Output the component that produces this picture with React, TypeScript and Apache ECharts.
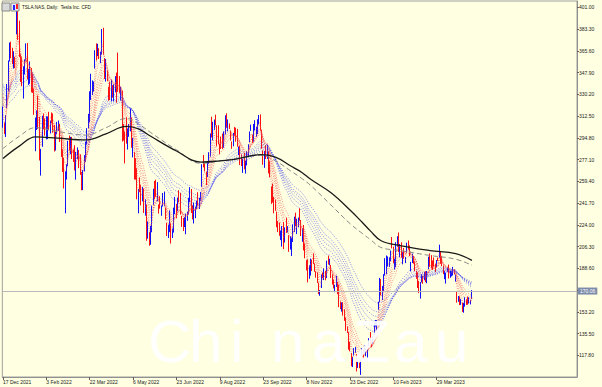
import { useEffect, useRef } from 'react';
import * as echarts from 'echarts';

// x-axis tick labels, one every 32 daily bars starting at bar 0
const tickLabels = ['17 Dec 2021', '3 Feb 2022', '22 Mar 2022', '6 May 2022', '23 Jun 2022', '9 Aug 2022', '23 Sep 2022', '8 Nov 2022', '23 Dec 2022', '10 Feb 2023', '29 Mar 2023'];
const barsPerLabel = 32;
const slotCount = 424; // bar slots across the plot (chart shift leaves empty room on the right)

// price scale
const priceMin = 100.1;
const priceMax = 406.1;
const priceStep = 17.7;
const lastPrice = 170.06;
const title = 'TSLA.NAS, Daily:  Tesla Inc. CFD';
const watermarkLetters = ['C', 'h', 'i', 'n', 'a', 'Z', 'a', 'u'];

// daily candles [open, high, low, close]
const candles2021: number[][] = [
  [304.9, 320.2, 303.0, 310.9], [303.6, 307.2, 297.8, 300.0], [305.6, 313.2, 295.4, 312.8], [321.9, 338.6, 319.0, 336.3],
  [335.6, 357.7, 332.5, 355.7], [357.9, 372.3, 356.9, 364.6], [369.8, 373.0, 359.5, 362.8], [366.2, 368.0, 354.7, 362.1],
  [353.8, 365.2, 351.1, 356.8], [357.8, 360.7, 351.5, 352.3],
];

const candles2022H1: number[][] = [
  // Jan
  [382.6, 400.4, 378.9, 399.9], [396.5, 402.7, 374.4, 383.2], [382.2, 390.1, 360.3, 362.7], [359.0, 362.7, 340.2, 354.9],
  [360.1, 360.3, 336.7, 342.3], [333.3, 353.0, 326.7, 352.7], [351.2, 358.6, 346.3, 354.8], [359.6, 371.6, 357.5, 368.7],
  [369.7, 371.9, 342.2, 343.9], [340.0, 350.7, 337.8, 349.9], [342.2, 356.9, 338.7, 343.5], [347.2, 351.6, 331.7, 331.9],
  [336.6, 347.2, 331.3, 332.1], [332.1, 334.9, 313.5, 314.6], [301.6, 311.2, 283.8, 310.0], [304.7, 317.1, 301.1, 306.1],
  [317.5, 329.2, 302.0, 312.5], [311.1, 311.8, 276.3, 276.4], [277.2, 285.8, 264.0, 282.1], [290.9, 312.7, 287.4, 312.2],
  // Feb
  [311.7, 314.6, 301.7, 310.4], [309.4, 310.5, 296.5, 301.9], [294.0, 312.3, 293.5, 297.0], [299.1, 312.2, 293.7, 307.8],
  [307.9, 315.9, 300.9, 302.4], [301.8, 308.8, 298.3, 307.3], [311.7, 315.4, 306.7, 310.7], [302.8, 314.6, 298.9, 301.5],
  [303.2, 305.3, 283.6, 286.7], [287.2, 299.6, 284.4, 291.9], [300.0, 307.7, 297.8, 307.5], [304.7, 308.8, 300.4, 307.8],
  [304.4, 306.2, 291.4, 292.1], [295.3, 295.6, 279.2, 285.7], [278.0, 285.6, 267.0, 273.8], [276.8, 278.4, 253.5, 254.7],
  [233.5, 267.5, 233.3, 266.9], [269.7, 273.2, 260.8, 270.0], [271.7, 292.3, 271.6, 290.1],
  // Mar
  [289.9, 296.6, 284.6, 288.1], [290.7, 295.5, 281.4, 293.3], [292.9, 295.5, 277.5, 279.8], [283.0, 285.2, 275.1, 279.4],
  [285.4, 288.7, 268.2, 268.2], [265.2, 283.3, 260.7, 274.8], [279.8, 286.9, 277.3, 286.3], [283.8, 284.8, 270.1, 279.4],
  [280.1, 281.3, 264.6, 265.1], [260.2, 266.9, 252.0, 255.5], [258.4, 268.5, 252.2, 267.3], [269.7, 280.7, 267.4, 280.1],
  [277.0, 291.7, 275.2, 290.5], [291.5, 302.6, 289.1, 301.8], [305.0, 314.3, 302.4, 307.1], [310.0, 332.6, 307.3, 331.3],
  [326.6, 346.9, 325.5, 333.0], [336.6, 341.5, 329.6, 338.0], [336.0, 340.6, 332.4, 336.9], [355.0, 366.0, 351.2, 363.9],
  [369.3, 371.6, 357.7, 366.5], [363.7, 371.3, 361.3, 364.7], [364.9, 367.7, 358.9, 359.2],
  // Apr
  [360.4, 364.9, 355.5, 361.5], [363.1, 383.3, 362.4, 381.8], [378.8, 384.3, 362.4, 363.8], [357.8, 359.7, 342.6, 348.6],
  [350.8, 358.9, 340.5, 352.4], [347.7, 349.5, 340.8, 341.8], [326.8, 336.2, 324.9, 325.3], [332.5, 340.4, 325.5, 329.0],
  [327.0, 342.1, 324.4, 340.8], [333.1, 337.6, 327.4, 328.3], [329.7, 338.3, 324.5, 334.8], [335.0, 345.0, 331.8, 342.7],
  [343.3, 347.8, 323.3, 325.7], [358.2, 364.1, 332.1, 336.3], [338.3, 345.0, 331.3, 335.0], [326.3, 336.2, 325.1, 332.7],
  [331.8, 333.3, 291.7, 292.1], [299.5, 306.0, 292.5, 293.8], [300.0, 300.0, 273.9, 292.5], [300.8, 311.5, 290.0, 290.3],
  // May
  [294.3, 302.4, 285.2, 301.0], [299.3, 306.0, 295.6, 303.1], [303.9, 318.3, 300.0, 317.5], [310.0, 311.3, 286.7, 291.1],
  [287.9, 294.7, 278.8, 288.6], [283.2, 283.2, 260.8, 262.4], [273.0, 278.3, 260.7, 266.7], [263.3, 270.0, 244.7, 244.7],
  [233.3, 253.2, 233.3, 242.7], [257.8, 262.5, 250.5, 256.5], [255.7, 256.6, 239.7, 241.5], [249.1, 254.8, 243.0, 253.9],
  [248.2, 253.5, 233.6, 236.6], [235.7, 244.7, 231.4, 236.5], [238.0, 240.5, 211.0, 221.3], [218.3, 226.7, 212.7, 225.0],
  [217.8, 218.0, 206.9, 209.4], [208.0, 223.1, 207.7, 219.6], [220.5, 239.6, 217.9, 235.9], [241.1, 253.3, 240.2, 253.2],
  [257.9, 259.6, 244.7, 252.8],
  // Jun
  [258.3, 260.7, 246.7, 246.8], [244.5, 258.7, 243.1, 258.3], [239.4, 240.6, 233.1, 234.5], [246.3, 247.3, 237.1, 238.3],
  [234.1, 239.7, 231.3, 238.9], [239.4, 249.8, 238.8, 241.9], [239.0, 251.0, 239.0, 239.7], [236.3, 237.7, 228.2, 232.2],
  [223.2, 225.6, 214.9, 215.7], [219.3, 224.1, 213.2, 220.9], [225.7, 235.6, 218.0, 233.0], [222.7, 225.2, 208.7, 213.1],
  [213.4, 221.0, 213.2, 216.8], [222.7, 237.9, 217.6, 237.0], [234.6, 246.7, 232.5, 236.1], [237.7, 241.0, 229.2, 235.1],
  [237.5, 246.1, 235.0, 245.7], [249.4, 252.1, 242.2, 244.9], [244.7, 250.0, 232.3, 232.7], [230.5, 231.2, 222.3, 228.5],
  [224.5, 229.5, 218.9, 224.5],
];

const candles2022H2: number[][] = [
  // Jul
  [227.0, 230.2, 222.1, 227.3], [223.0, 233.1, 216.2, 233.1], [230.8, 234.6, 227.2, 231.7], [233.9, 246.0, 232.3, 244.5],
  [242.3, 254.6, 242.3, 250.8], [252.1, 253.1, 233.6, 234.3], [236.8, 239.8, 228.4, 233.1], [225.5, 242.1, 225.0, 237.0],
  [234.9, 238.7, 229.3, 238.3], [240.0, 243.6, 236.9, 240.1], [244.9, 250.5, 239.6, 240.5], [245.0, 246.0, 236.8, 245.5],
  [246.8, 250.7, 243.5, 247.5], [255.1, 273.3, 254.9, 271.7], [276.2, 280.8, 270.7, 272.2], [272.2, 274.2, 267.4, 268.4],
  [266.5, 267.3, 256.3, 258.9], [263.8, 275.6, 262.9, 274.8], [280.0, 283.0, 273.6, 280.9], [280.7, 298.3, 279.5, 297.2],
  // Aug
  [301.3, 311.9, 295.0, 297.3], [294.0, 307.8, 292.7, 300.6], [305.0, 309.6, 301.2, 307.4], [311.0, 313.6, 305.0, 308.6],
  [302.7, 305.0, 287.7, 288.2], [295.0, 305.0, 289.5, 290.4], [289.0, 289.7, 281.3, 283.3], [295.8, 295.8, 285.6, 294.4],
  [297.0, 298.3, 285.6, 286.6], [289.4, 300.0, 286.7, 300.0], [298.0, 313.1, 297.5, 309.3], [311.7, 314.7, 302.9, 306.6],
  [303.4, 309.7, 300.0, 304.0], [306.0, 306.5, 301.9, 302.9], [299.0, 300.4, 292.5, 296.7], [291.8, 291.8, 285.8, 289.9],
  [291.5, 298.8, 287.9, 296.5], [297.6, 303.6, 296.5, 297.1], [302.4, 303.0, 291.6, 296.1], [297.4, 302.0, 287.5, 288.1],
  [282.8, 287.7, 280.7, 284.8], [287.9, 288.5, 272.7, 277.7], [280.6, 281.3, 271.8, 275.6],
  // Sep
  [272.6, 277.6, 266.2, 277.2], [281.1, 282.4, 269.1, 270.2], [272.7, 276.0, 265.7, 274.4], [273.1, 283.8, 272.3, 283.7],
  [281.3, 289.5, 279.8, 289.3], [291.7, 299.9, 291.3, 299.7], [300.7, 305.5, 300.4, 304.4], [292.9, 297.4, 290.4, 292.1],
  [292.2, 306.0, 291.6, 302.6], [301.8, 309.1, 300.7, 303.8], [299.6, 303.7, 295.6, 303.4], [300.1, 309.8, 297.8, 309.1],
  [306.9, 313.3, 305.6, 308.7], [308.3, 313.8, 300.6, 300.8], [299.9, 301.3, 285.8, 288.6], [283.1, 284.5, 272.8, 275.3],
  [271.8, 284.1, 270.3, 276.0], [283.8, 288.7, 277.5, 282.9], [283.1, 289.0, 277.6, 287.8], [282.8, 283.7, 265.8, 268.2],
  [266.2, 275.6, 262.5, 265.3],
  // Oct
  [254.5, 255.2, 241.0, 242.4], [250.5, 257.5, 242.0, 249.4], [245.0, 246.7, 233.3, 240.8], [239.4, 244.6, 235.4, 238.1],
  [233.9, 234.6, 222.0, 223.1], [223.9, 227.0, 218.0, 223.0], [221.0, 225.8, 215.0, 216.5], [215.3, 219.3, 211.5, 217.2],
  [208.3, 223.0, 206.2, 221.7], [224.0, 226.3, 204.2, 205.0], [210.0, 221.9, 209.5, 219.4], [229.5, 229.8, 217.3, 220.2],
  [219.8, 222.9, 217.8, 222.0], [208.3, 215.6, 202.0, 207.3], [206.4, 214.7, 203.8, 214.4], [205.8, 213.5, 198.6, 211.3],
  [210.1, 224.4, 210.0, 222.4], [219.4, 230.6, 218.2, 224.6], [229.8, 233.8, 222.9, 225.1], [225.4, 228.9, 216.4, 228.5],
  [226.2, 229.9, 221.9, 227.5],
  // Nov
  [234.1, 237.4, 227.3, 227.8], [226.0, 227.9, 214.8, 215.0], [211.4, 221.2, 210.1, 215.3], [222.6, 223.8, 203.1, 207.5],
  [208.7, 208.9, 196.7, 197.1], [194.0, 195.2, 186.8, 191.3], [190.8, 195.9, 177.1, 177.6], [189.9, 191.0, 180.0, 190.7],
  [186.0, 196.5, 182.6, 196.0], [192.8, 195.7, 186.3, 191.0], [195.9, 200.8, 192.1, 194.4], [191.5, 192.6, 185.7, 186.9],
  [184.0, 186.2, 180.9, 183.2], [185.1, 185.2, 176.6, 180.2], [175.9, 176.8, 167.5, 167.9], [168.6, 170.9, 166.2, 169.9],
  [173.6, 183.6, 172.5, 183.2], [185.1, 185.2, 180.6, 182.9], [180.0, 188.5, 179.0, 182.9], [185.0, 186.4, 178.8, 180.8],
  [182.4, 194.8, 180.6, 194.7],
  // Dec
  [197.1, 198.9, 191.8, 194.7], [191.8, 196.3, 191.1, 194.9], [189.4, 191.3, 180.6, 182.5], [181.2, 183.7, 175.3, 179.8],
  [175.0, 179.4, 172.2, 174.0], [172.2, 175.2, 169.1, 173.4], [173.8, 182.5, 173.4, 179.1], [176.1, 177.4, 167.5, 167.8],
  [174.9, 175.1, 156.9, 161.0], [159.3, 161.6, 155.3, 156.8], [153.4, 160.9, 153.3, 157.7], [159.6, 161.0, 150.0, 150.2],
  [154.0, 155.3, 145.8, 149.9], [146.1, 148.5, 137.7, 137.8], [139.3, 141.3, 135.9, 137.6], [136.0, 136.6, 122.3, 125.4],
  [126.4, 128.6, 121.0, 123.2], [117.5, 119.7, 108.8, 109.1], [110.4, 116.3, 108.2, 112.7], [120.4, 123.6, 117.5, 121.8],
  [120.0, 124.5, 119.8, 123.2],
];

const candles2023: number[][] = [
  // Jan
  [118.5, 118.8, 104.6, 108.1], [109.1, 114.6, 107.5, 113.6], [110.5, 111.8, 107.2, 110.3], [103.0, 114.4, 101.8, 113.1],
  [119.0, 123.5, 117.1, 119.8], [121.1, 122.8, 114.9, 118.9], [122.1, 126.0, 120.5, 123.2], [122.6, 124.1, 117.0, 123.6],
  [116.6, 122.6, 115.6, 122.4], [125.7, 131.7, 125.0, 131.5], [136.6, 136.7, 127.0, 128.8], [127.3, 130.0, 124.3, 127.2],
  [128.7, 133.5, 127.4, 133.4], [135.9, 145.4, 134.3, 143.8], [143.0, 146.5, 141.1, 143.9], [141.9, 146.4, 138.1, 144.4],
  [160.0, 161.4, 154.8, 160.3], [162.4, 180.7, 161.2, 177.9], [178.1, 179.8, 166.5, 166.7], [164.6, 174.3, 162.8, 173.2],
  // Feb
  [173.9, 183.8, 169.9, 181.4], [187.3, 196.8, 182.6, 188.3], [184.0, 199.0, 183.7, 190.0], [193.0, 198.2, 189.9, 194.8],
  [196.4, 197.5, 189.6, 196.8], [196.1, 203.0, 194.3, 201.3], [207.8, 214.0, 204.8, 207.3], [202.2, 206.2, 192.9, 196.9],
  [194.4, 196.3, 187.6, 194.6], [191.9, 209.8, 189.4, 209.3], [211.8, 214.7, 206.1, 214.2], [210.8, 217.7, 201.8, 202.0],
  [200.0, 208.4, 197.5, 208.3], [205.0, 209.7, 197.2, 197.4], [197.9, 202.0, 191.8, 200.9], [203.9, 205.1, 196.3, 202.1],
  [196.3, 197.7, 192.8, 196.9], [202.0, 209.4, 201.3, 207.6], [210.6, 211.2, 203.8, 205.7],
  // Mar
  [206.2, 207.2, 198.5, 202.8], [186.7, 193.8, 186.0, 190.9], [194.8, 200.5, 192.9, 197.8], [198.5, 198.6, 192.3, 193.8],
  [191.4, 194.2, 186.1, 187.7], [185.0, 186.5, 180.0, 182.0], [180.3, 185.2, 172.5, 172.9], [175.1, 178.3, 168.4, 173.4],
  [167.5, 177.4, 163.9, 174.5], [177.3, 183.8, 177.1, 183.3], [180.8, 182.3, 176.0, 180.5], [180.4, 185.8, 178.8, 184.1],
  [180.1, 186.2, 177.3, 180.1], [178.1, 186.4, 176.4, 183.3], [188.3, 198.0, 188.0, 197.6], [197.6, 200.7, 189.8, 191.2],
  [195.3, 199.3, 188.7, 192.2], [194.4, 194.9, 187.2, 190.4], [194.4, 197.4, 189.9, 191.8], [192.0, 192.4, 185.4, 189.2],
  [193.1, 195.3, 189.4, 193.9], [195.6, 197.3, 194.4, 195.3], [197.5, 207.8, 197.2, 207.5],
  // Apr
  [199.9, 202.7, 192.2, 194.8], [197.3, 198.7, 190.3, 192.6], [190.5, 190.7, 183.8, 185.5], [183.1, 186.4, 179.7, 185.1],
  [179.9, 185.1, 176.1, 184.5], [186.7, 189.2, 185.7, 186.8], [190.7, 191.6, 180.3, 180.5], [183.0, 186.5, 180.9, 185.9],
  [184.0, 186.3, 182.0, 185.0], [186.3, 189.7, 182.7, 187.0], [187.2, 187.7, 183.6, 184.3], [179.1, 183.5, 177.7, 180.6],
  [166.2, 169.7, 160.6, 163.0], [164.8, 166.0, 161.3, 165.1], [164.7, 165.7, 158.6, 162.6], [159.8, 163.5, 158.8, 160.7],
  [160.3, 160.7, 153.1, 153.8], [152.6, 160.5, 152.4, 160.2], [160.9, 165.0, 157.3, 164.3],
  // May
  [163.2, 163.3, 158.8, 161.8], [161.9, 165.5, 158.9, 160.3], [160.0, 165.0, 159.9, 160.6], [159.4, 163.0, 159.2, 161.2],
  [164.0, 170.8, 163.5, 170.06],
];

// long moving averages: [bar index, price]
const maSlowSolid: number[][] = [
  [0, 278], [12, 288], [24, 295.5], [40, 294.5], [61, 293], [76, 298], [91, 304], [100, 302], [109, 296],
  [128, 284], [146, 275], [160, 276], [172, 277.5], [190, 281], [201, 279], [212, 272], [220, 267], [227, 261],
  [242, 250], [256, 236], [265, 226], [271, 219], [279, 211], [293, 207], [315, 203], [334, 200.5], [346, 195],
];
const maSlowDashed: number[][] = [
  [0, 286], [12, 296], [24, 303], [40, 300], [61, 297], [76, 303], [91, 310.5], [100, 306], [109, 299],
  [128, 285], [146, 274], [160, 276], [172, 278], [190, 280.5], [201, 276], [212, 268], [220, 262], [227, 256],
  [242, 240], [256, 225], [265, 217], [271, 212], [279, 205.5], [293, 203], [315, 199], [334, 196], [346, 191],
];

// GMMA periods and their values on the day before the first bar
const fastPeriods = [3, 5, 8, 10, 12, 15];
const slowPeriods = [30, 35, 40, 45, 50, 60];
const fastSeeds = [313, 318, 325, 328, 331, 333];
const slowSeeds = [340, 338, 335, 332, 328, 322];

const FONT = '"Liberation Sans", Arial, sans-serif';

function ema(values: number[], period: number, seed: number): number[] {
  const k = 2 / (period + 1);
  let prev = seed;
  return values.map((v) => {
    prev = prev + k * (v - prev);
    return Math.round(prev * 100) / 100;
  });
}

export default function App() {
  const ref = useRef<HTMLDivElement>(null);

  useEffect(() => {
    if (!ref.current) return;
    const chart = echarts.init(ref.current, undefined, { renderer: 'svg' });

    const candles = [...candles2021, ...candles2022H1, ...candles2022H2, ...candles2023];
    const closes = candles.map((c) => c[3]);
    const candleData = candles.map(([o, h, l, c]) => [o, c, l, h]);
    const slots = Array.from({ length: slotCount }, (_, i) => String(i));

    const showTick = (i: number) => i % barsPerLabel === 0 && i / barsPerLabel < tickLabels.length;

    const gmmaSeries: any[] = [];
    fastPeriods.forEach((p, j) => {
      gmmaSeries.push({
        type: 'line', name: 'EMA' + p, data: ema(closes, p, fastSeeds[j]), showSymbol: false, silent: true,
        lineStyle: { color: '#f04848', width: 1, type: [1, 1.5], opacity: 0.6 }, z: 3,
      });
    });
    slowPeriods.forEach((p, j) => {
      gmmaSeries.push({
        type: 'line', name: 'EMA' + p, data: ema(closes, p, slowSeeds[j]), showSymbol: false, silent: true,
        lineStyle: { color: '#3c3cf0', width: 1, type: [1, 1.5], opacity: 0.6 }, z: 3,
      });
    });

    // watermark letters spread across the lower part of the picture
    const watermark = watermarkLetters.map((ch, i) => ({
      type: 'text',
      x: 148 + i * 41,
      y: 341,
      style: { text: ch, fontSize: 60, verticalAlign: 'middle', fill: 'rgba(255,255,255,0.92)', fontFamily: FONT },
      z: 100,
    }));

    chart.setOption({
      animation: false,
      backgroundColor: '#FFFFE1',
      grid: { left: 1, right: 25, top: 1, bottom: 10, show: true, borderColor: '#a0a0a0', borderWidth: 1 },
      xAxis: {
        type: 'category',
        data: slots,
        boundaryGap: true,
        axisLine: { show: true, lineStyle: { color: '#909090' } },
        axisTick: { show: true, alignWithLabel: true, length: 3, interval: (i: number) => showTick(i), lineStyle: { color: '#606060' } },
        axisLabel: {
          interval: (i: number) => showTick(i),
          formatter: (_v: string, i: number) => tickLabels[i / barsPerLabel] ?? '',
          align: 'left', fontSize: 5, margin: 2, color: '#222', fontFamily: FONT,
        },
        splitLine: { show: false },
      },
      yAxis: {
        type: 'value',
        position: 'right',
        min: priceMin,
        max: priceMax,
        interval: priceStep,
        splitLine: { show: false },
        axisLine: { show: true, lineStyle: { color: '#909090' } },
        axisTick: { show: true, length: 2, lineStyle: { color: '#606060' } },
        axisLabel: {
          showMinLabel: false, showMaxLabel: false, fontSize: 5, margin: 2, color: '#222', fontFamily: FONT,
          formatter: (v: number) => (Math.abs(v - 170.9) < 0.05 ? '' : v.toFixed(2)),
        },
      },
      series: [
        {
          type: 'candlestick',
          data: candleData,
          barWidth: 1.3,
          z: 2,
          itemStyle: { color: '#1010ff', color0: '#ff1010', borderColor: '#1010ff', borderColor0: '#ff1010', borderWidth: 1 },
          markLine: {
            silent: true,
            symbol: ['none', 'none'],
            lineStyle: { color: '#b8b8b8', type: 'solid', width: 1 },
            label: {
              position: 'end', formatter: lastPrice.toFixed(2), backgroundColor: '#7d8cab', color: '#ffffff',
              fontSize: 5, padding: [1, 2, 1, 2], distance: 1, fontFamily: FONT,
            },
            data: [{ yAxis: lastPrice }],
          },
        },
        ...gmmaSeries,
        {
          type: 'line', name: 'MA slow dashed', data: maSlowDashed, smooth: 0.4, showSymbol: false, silent: true,
          lineStyle: { color: '#8a8a8a', width: 1, type: [5, 3] }, z: 4,
        },
        {
          type: 'line', name: 'MA slow', data: maSlowSolid, smooth: 0.4, showSymbol: false, silent: true,
          lineStyle: { color: '#1a1a1a', width: 1.3 }, z: 5,
        },
      ],
      graphic: [
        { type: 'rect', shape: { x: 2, y: 3, width: 8, height: 8 }, style: { fill: '#d8d8d8', stroke: '#8a8a8a', lineWidth: 1 }, z: 10 },
        { type: 'rect', shape: { x: 11, y: 3, width: 8, height: 8 }, style: { fill: '#e8e8f8', stroke: '#8a8a8a', lineWidth: 1 }, z: 10 },
        { type: 'rect', shape: { x: 13, y: 5, width: 2, height: 5 }, style: { fill: '#2020ff' }, z: 11 },
        { type: 'rect', shape: { x: 16, y: 4, width: 2, height: 5 }, style: { fill: '#ff2020' }, z: 11 },
        { type: 'text', x: 22, y: 7, style: { text: title, fontSize: 4.6, fill: '#111', fontFamily: FONT, verticalAlign: 'middle' }, z: 10 },
        ...watermark,
      ],
    });

    return () => chart.dispose();
  }, []);

  return <div ref={ref} style={{ position: 'fixed', left: 0, top: 0, width: 602, height: 387 }} />;
}
